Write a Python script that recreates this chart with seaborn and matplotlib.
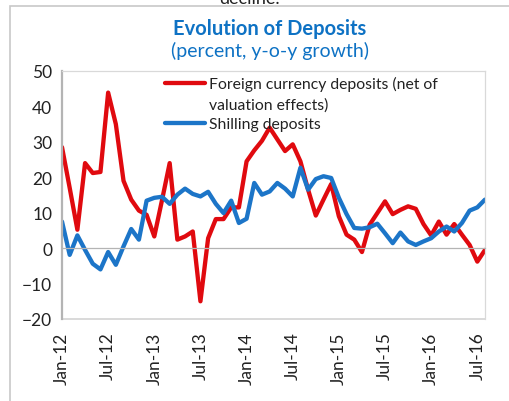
import matplotlib
matplotlib.use("Agg")
import matplotlib.pyplot as plt
from matplotlib.lines import Line2D
import numpy as np
import pandas as pd
import seaborn as sns

# Monthly observations, Jan-2012 .. Aug-2016
months = pd.date_range("2012-01-01", "2016-08-01", freq="MS")
month_labels = [d.strftime("%b-%y") for d in months]

fx_label = "Foreign currency deposits (net of"
fx_label_cont = "valuation effects)"
sh_label = "Shilling deposits"

fx_growth = [28.5, 17.0, 5.2, 24.0, 21.2, 21.5, 43.9, 35.0, 19.0, 13.7,
             10.6, 9.4, 3.3, 13.5, 24.0, 2.4, 3.3, 4.7, -15.0, 2.8,
             8.2, 8.2, 11.5, 11.5, 24.5, 27.6, 30.3, 34.0, 30.7, 27.4,
             29.3, 24.5, 16.5, 9.2, 13.7, 18.1, 9.0, 3.8, 2.4, -1.1,
             6.6, 9.9, 13.2, 9.6, 10.8, 11.8, 11.1, 6.8, 3.6, 7.5,
             3.8, 6.8, 3.8, 0.9, -3.8, -0.5]

shilling_growth = [7.5, -1.9, 3.6, -0.5, -4.4, -6.0, -1.1, -4.7, 0.5, 5.4,
                   2.4, 13.4, 14.2, 14.5, 12.5, 15.1, 16.8, 15.3, 14.6, 15.9,
                   12.5, 9.9, 13.4, 7.1, 8.3, 18.4, 15.1, 16.0, 18.4, 16.8,
                   14.6, 22.7, 16.5, 19.5, 20.3, 19.8, 14.2, 9.6, 5.7, 5.5,
                   5.9, 6.9, 4.2, 1.4, 4.4, 1.9, 0.9, 1.9, 2.8, 4.7,
                   6.1, 4.7, 7.1, 10.6, 11.5, 13.7]

y_ticks = [-20, -10, 0, 10, 20, 30, 40, 50]

RED = "#E00A0F"
BLUE = "#1C75C8"
TITLE_BLUE = "#0E72C4"
AXIS_GREY = "#B4B4B4"
BOX_GREY = "#D9D9D9"

sns.set_style("white")
plt.rcParams["font.family"] = ["Lato", "DejaVu Sans"]

n = len(months)
df = pd.DataFrame({
    "pos": list(range(n)) * 2,
    "growth": fx_growth + shilling_growth,
    "series": [fx_label] * n + [sh_label] * n,
})

fig = plt.figure(figsize=(5.09, 4.02), dpi=100)
ax = fig.add_axes([62 / 509, 1 - 320 / 402, (485 - 62) / 509, (320 - 72) / 402])

sns.lineplot(data=df, x="pos", y="growth", hue="series",
             palette={fx_label: RED, sh_label: BLUE},
             linewidth=3.1, legend=False, ax=ax,
             solid_joinstyle="round", solid_capstyle="round")

ax.set_xlim(0, n - 1)
ax.set_ylim(y_ticks[0], y_ticks[-1])
ax.set_yticks(y_ticks)
ax.set_xlabel("")
ax.set_ylabel("")

# Category axis crosses at zero, labels sit below the plot area
ax.spines["bottom"].set_position(("data", 0))
ax.spines["bottom"].set_color(AXIS_GREY)
ax.spines["bottom"].set_linewidth(0.9)
ax.spines["left"].set_color(AXIS_GREY)
ax.spines["left"].set_linewidth(1.6)
for side in ("top", "right"):
    ax.spines[side].set_color(BOX_GREY)
    ax.spines[side].set_linewidth(0.9)
ax.axhline(y_ticks[0], color=BOX_GREY, linewidth=1.4, clip_on=False)

ax.set_xticks(range(n))
ax.set_xticklabels([lab if i % 6 == 0 else "" for i, lab in enumerate(month_labels)],
                   rotation=90, ha="center", va="top")
ax.tick_params(axis="x", direction="out", length=3, width=0.9, color=AXIS_GREY,
               pad=57, labelsize=12.5, labelcolor="#222222")
ax.tick_params(axis="y", direction="out", length=4, width=1.2, color=AXIS_GREY,
               pad=3, labelsize=12.5, labelcolor="#222222")

# Legend: wrapped first label continues on its own row
handles = [Line2D([], [], color=RED, linewidth=3.1),
           Line2D([], [], color="none"),
           Line2D([], [], color=BLUE, linewidth=3.1)]
ax.legend(handles, [fx_label, fx_label_cont, sh_label],
          loc="upper left", bbox_to_anchor=((165 - 62) / 423, (320 - 77) / 248),
          frameon=False, borderpad=0, borderaxespad=0, fontsize=11.3,
          handlelength=2.55, handletextpad=0.25, labelspacing=0.38,
          labelcolor="#222222")

fig.text(270 / 509, 1 - 29 / 402, "Evolution of Deposits", ha="center", va="center",
         fontsize=14.5, fontweight="bold", color=TITLE_BLUE)
fig.text(270 / 509, 1 - 51 / 402, "(percent, y-o-y growth)", ha="center", va="center",
         fontsize=14, color=TITLE_BLUE)
fig.text(250 / 509, 1 - 4 / 402, "decline.", ha="center", va="baseline",
         fontsize=13, color="#222222")

# Outer frame of the exhibit
fig.add_artist(plt.Rectangle((10 / 509, -0.1), 1.2, 1 - 7 / 402 + 0.1,
                             transform=fig.transFigure, fill=False,
                             edgecolor="#C8C8C8", linewidth=1.2))

fig.savefig("out.png", dpi=100)
